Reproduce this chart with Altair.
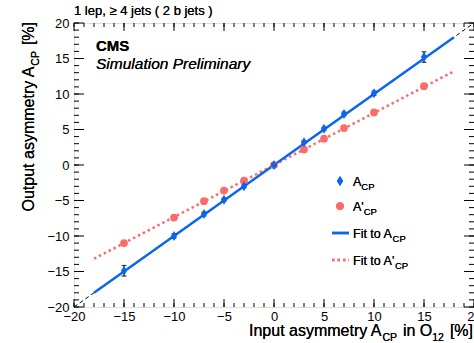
import altair as alt
import pandas as pd

# ---- values -------------------------------------------------------------
input_acp = [-15, -10, -7, -5, -3, 0, 3, 5, 7, 10, 15]
output_acp = [-14.9, -10.0, -6.9, -4.9, -3.0, 0.0, 3.2, 5.1, 7.2, 10.1, 15.2]
error_acp = [0.75, 0.3, 0.25, 0.2, 0.2, 0.2, 0.2, 0.2, 0.25, 0.3, 0.75]
output_acp_prime = [-11.0, -7.4, -5.1, -3.6, -2.2, 0.0, 2.2, 3.7, 5.2, 7.4, 11.1]

fit_x = [-18, 18]
fit_acp = [-18.0, 18.0]
fit_acp_prime = [-13.2, 13.2]

diag_x = [-20, 20]
diag_y = [-20, 20]

major_ticks = [-20, -15, -10, -5, 0, 5, 10, 15, 20]
minor_ticks = list(range(-20, 21))

# ---- layout --------------------------------------------------------------
W, H = 400, 284
PAD_L, PAD_T = 74, 23
FONT = "Liberation Sans"
BLUE = "#0a66f0"
RED = "#fd6a6a"

# Helvetica/Arial advance widths (per 1000 em) for composing sub-scripted titles
HW = {" ": 278, "A": 667, "C": 722, "I": 278, "O": 778, "P": 667, "F": 611,
      "a": 556, "e": 556, "i": 222, "m": 833, "n": 556, "o": 556, "p": 556,
      "r": 333, "s": 500, "t": 278, "u": 556, "y": 500, "[": 278, "]": 278,
      "%": 889, "1": 556, "2": 556, "'": 191}


def text_width(s, size):
    return sum(HW.get(c, 556) for c in s) * size / 1000.0


xs = alt.Scale(domain=[-20, 20], nice=False, zero=False)
ys = alt.Scale(domain=[-20, 20], nice=False, zero=False)

axis_common = dict(ticks=False, domain=False, grid=False, labelFont=FONT,
                   labelFontSize=13, labelColor="black", values=major_ticks,
                   format="d", title=None, labelOverlap=False,
                   labelFlush=False, labelBound=False)
AX = alt.Axis(labelPadding=3, **axis_common)
AY = alt.Axis(labelPadding=5, **axis_common)


def X(field):
    return alt.X(field, scale=xs, axis=AX)


def Y(field):
    return alt.Y(field, scale=ys, axis=AY)


pts = pd.DataFrame({"x": input_acp, "y": output_acp, "e": error_acp,
                    "yp": output_acp_prime})
pts["lo"] = pts["y"] - pts["e"]
pts["hi"] = pts["y"] + pts["e"]
fit = pd.DataFrame({"x": fit_x, "a": fit_acp, "ap": fit_acp_prime})
diag = pd.DataFrame({"x": diag_x, "y": diag_y})
maj = pd.DataFrame({"v": major_ticks})
mnr = pd.DataFrame({"v": minor_ticks})

# reference diagonal (y = x)
layers = [alt.Chart(diag).mark_line(color="black", strokeWidth=1,
                                    strokeDash=[4, 3]).encode(
    x=X("x:Q"), y=Y("y:Q"))]

# inward-pointing ticks on all four sides
for df, lx, ly in [(maj, 8, 10), (mnr, 4, 5)]:
    layers += [
        alt.Chart(df).mark_rule(color="black", strokeWidth=1).encode(
            x=X("v:Q"), y=alt.value(H), y2=alt.value(H - lx)),
        alt.Chart(df).mark_rule(color="black", strokeWidth=1).encode(
            x=X("v:Q"), y=alt.value(0), y2=alt.value(lx)),
        alt.Chart(df).mark_rule(color="black", strokeWidth=1).encode(
            y=Y("v:Q"), x=alt.value(0), x2=alt.value(ly)),
        alt.Chart(df).mark_rule(color="black", strokeWidth=1).encode(
            y=Y("v:Q"), x=alt.value(W), x2=alt.value(W - ly)),
    ]

# fits
layers.append(alt.Chart(fit).mark_line(color=RED, strokeWidth=2.5,
                                       strokeDash=[2.5, 3]).encode(
    x=X("x:Q"), y=Y("ap:Q")))
layers.append(alt.Chart(fit).mark_line(color=BLUE, strokeWidth=2.5).encode(
    x=X("x:Q"), y=Y("a:Q")))

# A'_CP points
layers.append(alt.Chart(pts).mark_point(filled=True, shape="circle", size=60,
                                        color=RED, opacity=1).encode(
    x=X("x:Q"), y=Y("yp:Q")))

# A_CP error bars and points
layers.append(alt.Chart(pts).mark_rule(color="black", strokeWidth=1.2).encode(
    x=X("x:Q"), y=Y("lo:Q"), y2="hi:Q"))
for f in ["lo", "hi"]:
    layers.append(alt.Chart(pts).mark_tick(color="black", thickness=1.2,
                                           size=5, orient="horizontal").encode(
        x=X("x:Q"), y=Y(f + ":Q")))
DIAMOND = "M0,-1L0.62,0L0,1L-0.62,0Z"
layers.append(alt.Chart(pts).mark_point(filled=True, shape=DIAMOND, size=100,
                                        color=BLUE, opacity=1).encode(
    x=X("x:Q"), y=Y("y:Q")))


def txt(s, x, y, size, **kw):
    return alt.Chart(diag).mark_text(text=s, font=FONT, fontSize=size,
                                     align="left", baseline="alphabetic",
                                     color="black", **kw).encode(
        x=alt.value(x), y=alt.value(y))


def compose(pieces, x0, y0, angle=None):
    """pieces: (text, size, baseline shift). Laid out left-to-right (or
    bottom-to-top when rotated). Leading blanks become an explicit advance,
    since SVG collapses them."""
    out = []
    pos = 0.0
    for s, size, shift in pieces:
        body = s.lstrip(" ")
        pos += text_width(s[: len(s) - len(body)], size)
        if angle is None:
            out.append(txt(body, x0 + pos, y0 + shift, size))
        else:
            out.append(txt(body, x0 + shift, y0 - pos, size, angle=angle))
        pos += text_width(body, size) + (1.5 if shift else 0)
    return out, pos


# header texts
layers.append(txt("1 lep, \u2265 4 jets ( 2 b jets )", 0, -8, 13))
layers.append(txt("CMS", 22, 28, 15, fontWeight="bold"))
layers.append(txt("Simulation Preliminary", 22, 46, 15.5, fontStyle="italic"))

# x-axis title, right-aligned to the axis end
SUB = 10.5
xt = [("Input asymmetry A", 16, 0), ("CP", SUB, 5), (" in O", 16, 0),
      ("12", SUB, 5), (" [%]", 16, 0)]
_, wx = compose(xt, 0, 0)
parts, _ = compose(xt, W - 1 - wx, H + 29)
layers += parts

# y-axis title, rotated, ending at the top of the axis
yt = [("Output asymmetry A", 16, 0), ("CP", SUB, 5), (" [%]", 16, 0)]
_, wy = compose(yt, 0, 0)
parts, _ = compose(yt, 34 - PAD_L, -1 + wy, angle=270)
layers += parts

# legend
LX, LT = 340 - PAD_L, 353 - PAD_L
rows = [181 - PAD_T, 206 - PAD_T, 233 - PAD_T, 260 - PAD_T]
layers.append(alt.Chart(diag).mark_point(filled=True, shape=DIAMOND, size=100,
                                         color=BLUE, opacity=1).encode(
    x=alt.value(LX), y=alt.value(rows[0])))
layers.append(alt.Chart(diag).mark_point(filled=True, shape="circle", size=60,
                                         color=RED, opacity=1).encode(
    x=alt.value(LX), y=alt.value(rows[1])))
layers.append(alt.Chart(diag).mark_rule(color=BLUE, strokeWidth=2.5).encode(
    x=alt.value(LX - 8), x2=alt.value(LX + 9), y=alt.value(rows[2])))
layers.append(alt.Chart(diag).mark_rule(color=RED, strokeWidth=2.5,
                                        strokeDash=[2.5, 3]).encode(
    x=alt.value(LX - 8), x2=alt.value(LX + 9), y=alt.value(rows[3])))
for label, ry in zip(["A", "A'", "Fit to A", "Fit to A'"], rows):
    parts, _ = compose([(label, 12.5, 0), ("CP", 9.5, 4)], LT, ry + 5)
    layers += parts

chart = alt.layer(*layers).properties(
    width=W, height=H,
    autosize=alt.AutoSizeParams(type="none"),
    padding={"left": PAD_L, "top": PAD_T, "right": 0, "bottom": 343 - PAD_T - H},
).configure_view(stroke="black", strokeWidth=1).configure(background="white")

chart.save("out.html", embed_options={"renderer": "svg", "actions": False})
